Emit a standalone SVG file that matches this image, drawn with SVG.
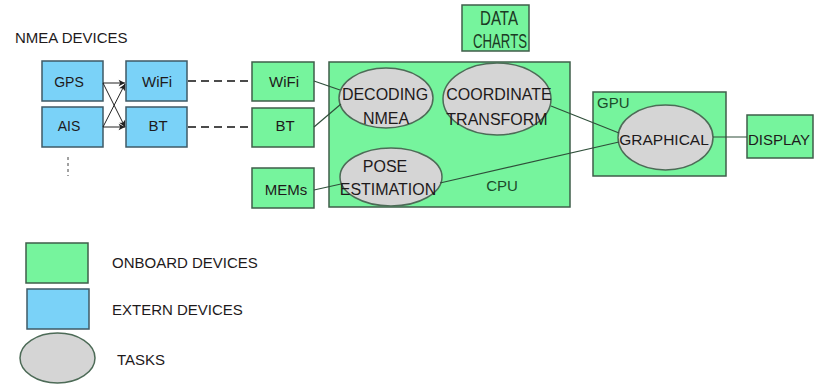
<svg xmlns="http://www.w3.org/2000/svg" width="816" height="385" viewBox="0 0 816 385">
  <style>
    .onboard { fill: #76f49d; stroke: #3f5e4a; stroke-width: 1.5; }
    .extern { fill: #7ad2f8; stroke: #3f5a66; stroke-width: 1.5; }
    .task { fill: #d5d5d5; stroke: #4d6b57; stroke-width: 1.5; }
    text { font-family: "Liberation Sans", Arial, sans-serif; fill: #1e1a1b; }
    .lbl { font-size: 15px; text-anchor: middle; }
    .tsk { font-size: 16px; text-anchor: middle; }
    .tall { font-size: 21px; text-anchor: middle; fill: #1c3a24; }
    .unit { font-size: 15px; fill: #1c4a2a; }
    .legend { font-size: 15px; }
    .wire { stroke: #2f4f3a; stroke-width: 1.2; fill: none; }
    .link { stroke: #111; stroke-width: 1.5; stroke-dasharray: 8 5; fill: none; }
    .arrow { stroke: #222; stroke-width: 1; fill: none; }
  </style>
  <defs>
    <marker id="head" viewBox="0 0 10 10" refX="9" refY="5" markerWidth="8" markerHeight="8" markerUnits="userSpaceOnUse" orient="auto">
      <path d="M1,1 L9,5 L1,9 L3,5 Z" fill="#222"/>
    </marker>
  </defs>

  <text x="15" y="43" class="legend">NMEA DEVICES</text>

  <!-- external devices -->
  <g id="gps"><rect class="extern" x="42" y="61" width="61" height="40"/><text class="lbl" x="69" y="87" style="font-size:14px">GPS</text></g>
  <g id="ais"><rect class="extern" x="42" y="107" width="61" height="40"/><text class="lbl" x="69" y="131" style="font-size:14px">AIS</text></g>
  <g id="wifi-ext"><rect class="extern" x="126" y="61" width="61" height="40"/><text class="lbl" x="157" y="87">WiFi</text></g>
  <g id="bt-ext"><rect class="extern" x="126" y="107" width="61" height="40"/><text class="lbl" x="158" y="131">BT</text></g>

  <!-- onboard devices -->
  <g id="wifi"><rect class="onboard" x="252" y="62" width="62" height="39"/><text class="lbl" x="284" y="87">WiFi</text></g>
  <g id="bt"><rect class="onboard" x="252" y="108" width="62" height="39"/><text class="lbl" x="285" y="131">BT</text></g>
  <g id="mems"><rect class="onboard" x="252" y="168" width="62" height="40"/><text class="lbl" x="286" y="195">MEMs</text></g>
  <g id="data-charts">
    <rect class="onboard" x="462" y="5" width="67" height="46"/>
    <text class="tall" x="499" y="25" textLength="38" lengthAdjust="spacingAndGlyphs">DATA</text>
    <text class="tall" x="500" y="48" textLength="54" lengthAdjust="spacingAndGlyphs">CHARTS</text>
  </g>

  <g id="cpu">
    <rect class="onboard" x="329" y="62" width="241" height="145"/>
    <text class="unit" x="502" y="191" text-anchor="middle">CPU</text>
  </g>
  <g id="decoding-nmea"><ellipse class="task" cx="386" cy="98" rx="47" ry="30"/><text class="tsk" x="385" y="100">DECODING</text><text class="tsk" x="386" y="124">NMEA</text></g>
  <g id="coordinate-transform"><ellipse class="task" cx="497" cy="99" rx="54" ry="36"/><text class="tsk" x="499" y="100">COORDINATE</text><text class="tsk" x="497" y="125">TRANSFORM</text></g>
  <g id="pose-estimation"><ellipse class="task" cx="391" cy="177" rx="51" ry="29"/><text class="tsk" x="385" y="172">POSE</text><text class="tsk" x="388" y="195">ESTIMATION</text></g>

  <g id="gpu">
    <rect class="onboard" x="593" y="92" width="133" height="84"/>
    <text class="unit" x="597" y="108">GPU</text>
  </g>
  <g id="graphical"><ellipse class="task" cx="665.5" cy="137.5" rx="47.5" ry="32.5"/><text class="lbl" x="664" y="145" style="font-size:15.5px">GRAPHICAL</text></g>
  <g id="display"><rect class="onboard" x="747" y="115" width="66" height="43"/><text class="lbl" x="779" y="145">DISPLAY</text></g>

  <!-- connectors -->
  <g id="connectors">
    <line class="arrow" x1="103" y1="83" x2="125" y2="83" marker-end="url(#head)"/>
    <line class="arrow" x1="103" y1="83" x2="125" y2="127" marker-end="url(#head)"/>
    <line class="arrow" x1="103" y1="127" x2="125" y2="84" marker-end="url(#head)"/>
    <line class="arrow" x1="103" y1="127" x2="125" y2="127" marker-end="url(#head)"/>
    <line x1="68" y1="157" x2="68" y2="176" stroke="#444" stroke-width="1" stroke-dasharray="3 3"/>
    <line class="link" x1="188" y1="81" x2="252" y2="81"/>
    <line class="link" x1="188" y1="127" x2="252" y2="127"/>
    <line class="wire" x1="314" y1="81" x2="340" y2="90"/>
    <line class="wire" x1="314" y1="127" x2="341" y2="104"/>
    <line class="wire" x1="314" y1="190" x2="341" y2="184"/>
    <line class="wire" x1="551" y1="106" x2="619" y2="133"/>
    <line class="wire" x1="440" y1="183" x2="619" y2="142"/>
    <line class="wire" x1="713" y1="137" x2="747" y2="137"/>
  </g>

  <!-- legend -->
  <g id="legend">
    <rect class="onboard" x="26" y="243" width="62" height="40"/>
    <text class="legend" x="112" y="268">ONBOARD DEVICES</text>
    <rect class="extern" x="27" y="289" width="62" height="40"/>
    <text class="legend" x="112" y="315">EXTERN DEVICES</text>
    <ellipse class="task" cx="57.5" cy="358" rx="37.5" ry="25"/>
    <text class="legend" x="117" y="365">TASKS</text>
  </g>
</svg>
